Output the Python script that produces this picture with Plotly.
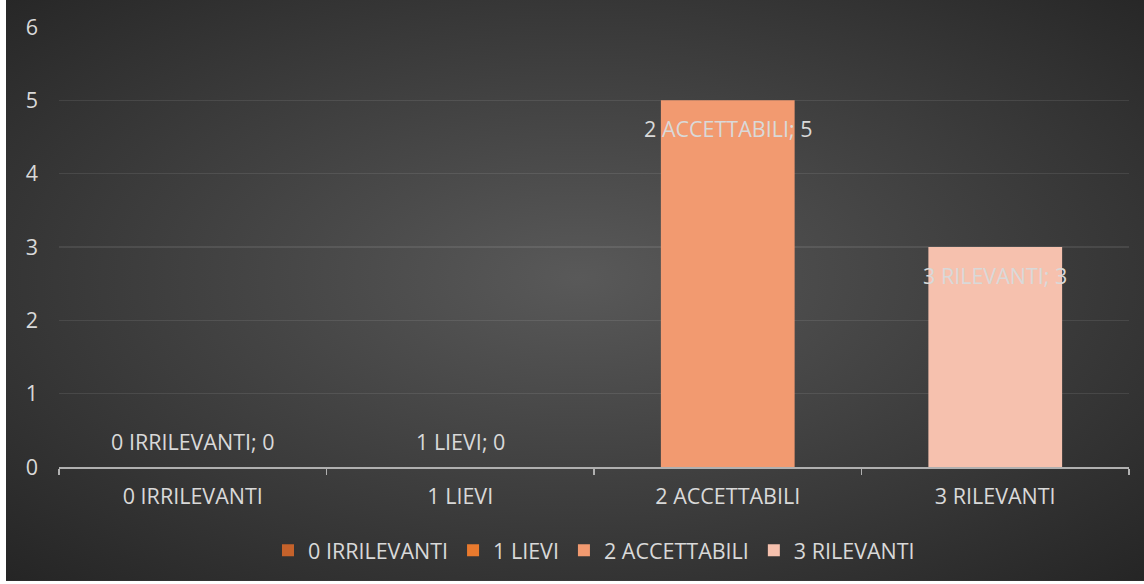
import base64
import plotly.graph_objects as go

# ---- data ----
categories = ["0 IRRILEVANTI", "1 LIEVI", "2 ACCETTABILI", "3 RILEVANTI"]
series_names = ["0 IRRILEVANTI", "1 LIEVI", "2 ACCETTABILI", "3 RILEVANTI"]
values = [0, 0, 5, 3]
y_ticks = [0, 1, 2, 3, 4, 5, 6]

# ---- style ----
colors = ["#C5622B", "#E97A2E", "#F29A70", "#F6C1AE"]
txt = "#D9D9D9"
FONT = "Open Sans"
FS = 21.5

W, H = 1144, 584
ML, MR, MT, MB = 59, 15, 23, 117
PW, PH = W - ML - MR, H - MT - MB

BG_X0, BG_Y0, BG_W, BG_H = 6, -6, 1144, 588  # background panel in pixels

svg = f'''<svg xmlns="http://www.w3.org/2000/svg" width="{BG_W}" height="{BG_H}" viewBox="0 0 {BG_W} {BG_H}" preserveAspectRatio="none">
<defs><radialGradient id="g" cx="50%" cy="48%" r="72%">
<stop offset="0%" stop-color="#595959"/>
<stop offset="100%" stop-color="#252525"/>
</radialGradient></defs>
<rect width="{BG_W}" height="{BG_H}" fill="url(#g)"/></svg>'''
src = "data:image/svg+xml;base64," + base64.b64encode(svg.encode()).decode()

fig = go.Figure()
for name, cat, val, col in zip(series_names, categories, values, colors):
    fig.add_trace(go.Bar(
        x=[cat], y=[val], name=name, width=0.5,
        marker=dict(color=col, line=dict(width=0)),
        hoverinfo="skip",
    ))

annotations = []
for name, cat, val in zip(series_names, categories, values):
    annotations.append(dict(
        x=cat, y=val, xref="x", yref="y",
        text=f"{name}; {val}", showarrow=False,
        yanchor="middle", yshift=(-28 if val > 0 else 26),
        font=dict(family=FONT, size=FS, color=txt),
    ))

fig.update_layout(
    width=W, height=H,
    margin=dict(l=ML, r=MR, t=MT, b=MB, pad=0),
    paper_bgcolor="#FFFFFF",
    plot_bgcolor="rgba(0,0,0,0)",
    barmode="overlay",
    font=dict(family=FONT, size=FS, color=txt),
    showlegend=True,
    legend=dict(
        orientation="h", x=0.5, xanchor="center",
        y=-84 / PH, yanchor="middle",
        font=dict(family=FONT, size=FS, color=txt),
        bgcolor="rgba(0,0,0,0)", itemclick=False,
        traceorder="normal",
    ),
    annotations=annotations,
    images=[dict(
        source=src, xref="paper", yref="paper",
        x=(BG_X0 - ML) / PW, y=1 + (MT - BG_Y0) / PH,
        sizex=BG_W / PW, sizey=(582 - BG_Y0) / PH,
        xanchor="left", yanchor="top",
        sizing="stretch", layer="below",
    )],
    xaxis=dict(
        type="category", categoryorder="array", categoryarray=categories,
        showline=True, linecolor="#B0B0B0", linewidth=1.5,
        ticks="outside", tickson="boundaries", ticklen=6,
        tickcolor="#B0B0B0", tickwidth=1.5,
        showgrid=False, zeroline=False,
        tickfont=dict(family=FONT, size=FS, color=txt),
        ticklabelstandoff=10,
    ),
    yaxis=dict(
        range=[0, 6], tickvals=y_ticks, ticktext=[str(v) for v in y_ticks],
        showline=False, zeroline=False,
        showgrid=True, gridcolor="rgba(255,255,255,0.09)", gridwidth=1.5,
        ticks="", ticklabelstandoff=20,
        tickfont=dict(family=FONT, size=FS, color=txt),
    ),
)

fig.write_html(
    "out.html",
    config={"displayModeBar": False, "staticPlot": True},
    post_script="document.body.style.margin='0';document.body.style.padding='0';document.body.style.overflow='hidden';",
)
